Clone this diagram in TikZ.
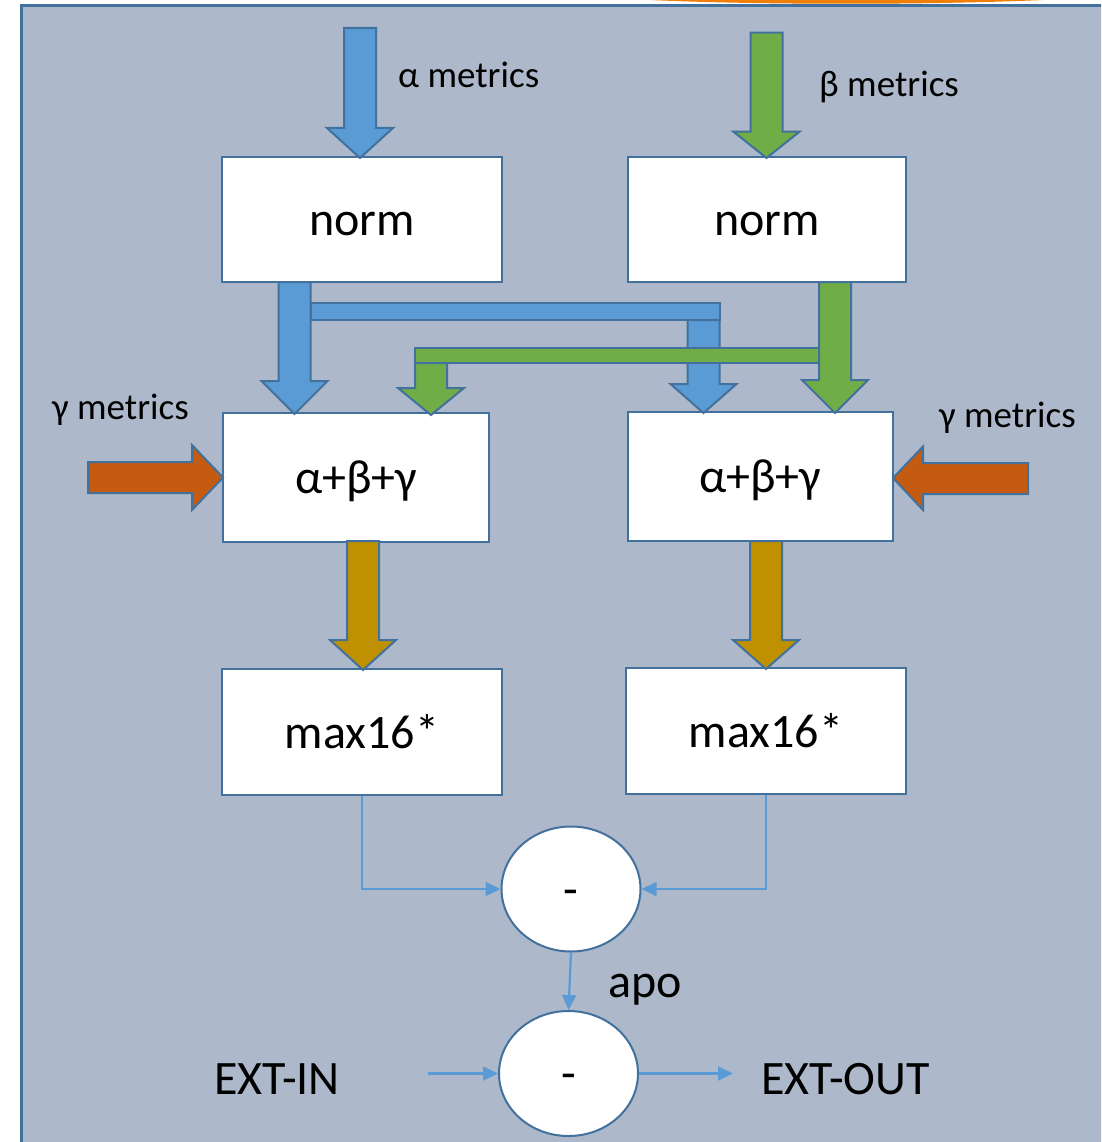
\documentclass[tikz,border=0pt]{standalone}
\usepackage{fontspec}
\setmainfont{Carlito}
\usetikzlibrary{arrows.meta,shapes.geometric}
\definecolor{panel}{HTML}{ADB9CA}
\definecolor{edge}{HTML}{41719C}
\definecolor{ablue}{HTML}{5B9BD5}
\definecolor{agreen}{HTML}{70AD47}
\definecolor{ared}{HTML}{C55A11}
\definecolor{agold}{HTML}{BF9000}
\definecolor{topor}{HTML}{F07F09}
% block arrow pointing down: colour, x of axis, y of tail, y of head base, y of tip
\newcommand{\fatdown}[5]{%
  \filldraw[fat,fill=#1] (#2-16,#3) -- (#2+16,#3) -- (#2+16,#4) -- (#2+33,#4)
    -- (#2,#5) -- (#2-33,#4) -- (#2-16,#4) -- cycle;}
\begin{document}
\begin{tikzpicture}[x=1pt,y=-1pt,
  box/.style={draw=edge,line width=2pt,fill=white,inner sep=0pt,
    text height=32pt,text depth=0pt,font=\fontsize{48}{57}\selectfont},
  oval/.style={box,ellipse,minimum width=139pt,minimum height=125pt},
  fat/.style={draw=edge,line width=2pt,line join=miter},
  thin/.style={draw=ablue,line width=2.2pt,-{Triangle[length=15pt,width=14pt]}},
  lbl/.style={inner sep=0pt,anchor=base west,font=\fontsize{37}{44}\selectfont},
  big/.style={inner sep=0pt,anchor=base west,font=\fontsize{48}{57}\selectfont}]

\clip (0,0) rectangle (1101,1142);
\useasboundingbox (0,0) rectangle (1101,1142);
\fill[white] (0,0) rectangle (1101,1142);
\fill[topor] (650,0) .. controls (760,5) and (930,5) .. (1043,0) -- cycle;
\filldraw[fill=panel,draw=edge,line width=3pt] (21.5,5.5) rectangle (1120,1160);

% blocks
\node[box,minimum width=280pt,minimum height=125pt] (norm1) at (362,219.5) {norm};
\node[box,minimum width=278pt,minimum height=125pt] (norm2) at (767,219.5) {norm};
\node[box,minimum width=266pt,minimum height=129pt] (sum1) at (356,477.5) {α+β+γ};
\node[box,minimum width=265pt,minimum height=129pt] (sum2) at (760.3,476.3) {α+β+γ};
\node[box,minimum width=280pt,minimum height=126pt] (max1) at (362,732) {max16*};
\node[box,minimum width=280pt,minimum height=126pt] (max2) at (766,731) {max16*};
\node[oval] (sub1) at (571,889) {-};
\node[oval] (sub2) at (568.5,1073.5) {-};

% labels
\node[lbl] (la) at (398,88) {α metrics};
\node[lbl] (lb) at (819,97) {β metrics};
\node[lbl] (lg1) at (52,419) {γ metrics};
\node[lbl] (lg2) at (939,427) {γ metrics};
\node[big] (apo) at (608,997) {apo};
\node[big] (extin) at (214,1094) {EXT-IN};
\node[big] (extout) at (761,1094) {EXT-OUT};

% inputs
\fatdown{ablue}{360}{28}{128}{158}
\fatdown{agreen}{766.5}{32.7}{131.7}{158}

% alpha routed to both sums
\fatdown{ablue}{294.5}{282}{381}{414}
\filldraw[fat,fill=ablue] (310.5,303.3) rectangle (719.5,320);
\fatdown{ablue}{703.5}{320}{384}{413}

% beta routed to both sums
\filldraw[fat,fill=agreen] (415,348) rectangle (819,363);
\fatdown{agreen}{835}{282}{380}{413}
\fatdown{agreen}{431}{363}{388}{415}

% gamma inputs
\filldraw[fat,fill=ared] (88,462) -- (192,462) -- (192,445) -- (223,477.5)
  -- (192,510) -- (192,493) -- (88,493) -- cycle;
\filldraw[fat,fill=ared] (1028,463) -- (923,463) -- (923,446.5) -- (893,478)
  -- (923,510) -- (923,494) -- (1028,494) -- cycle;

% sums into max16*
\fatdown{agold}{363}{541}{640}{670}
\fatdown{agold}{766}{541}{640}{669}

% subtraction chain
\coordinate (inpt) at (428,1073.5);
\coordinate (outpt) at (733,1073.5);
\draw[thin] (max1.south) |- (sub1.west);
\draw[thin] (max2.south) |- (sub1.east);
\draw[thin] (sub1.south) -- (sub2.north);
\draw[thin] (inpt) -- (sub2.west);
\draw[thin] (sub2.east) -- (outpt);
\end{tikzpicture}
\end{document}
